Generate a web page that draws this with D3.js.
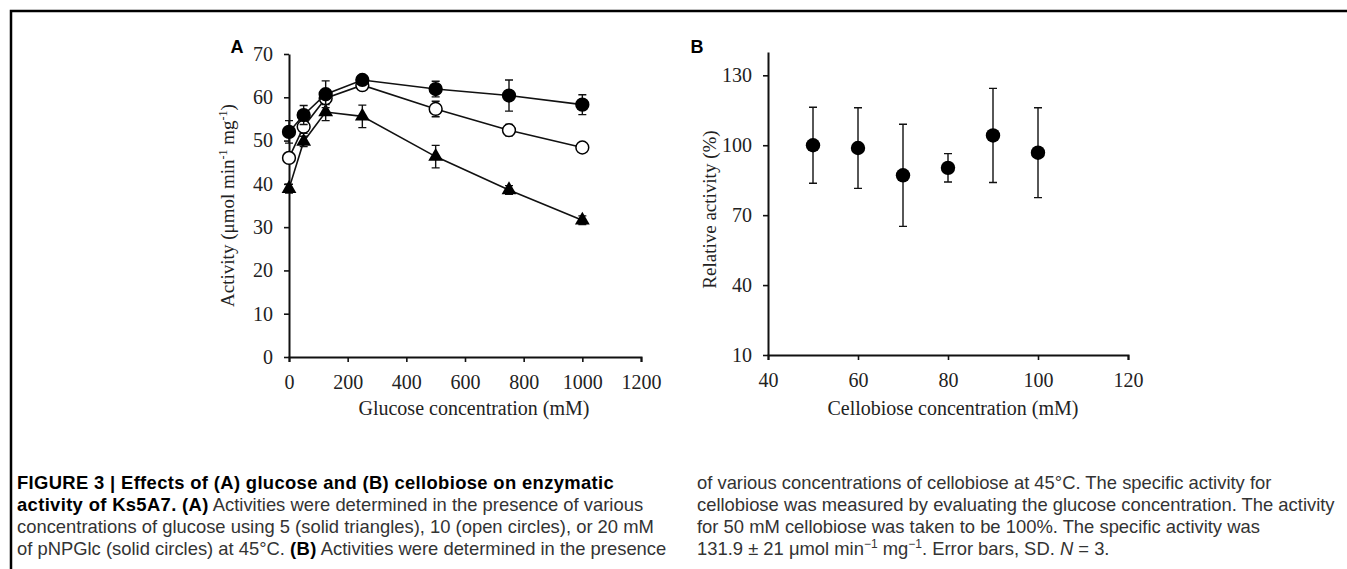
<!DOCTYPE html>
<html>
<head>
<meta charset="utf-8">
<script src="https://cdn.jsdelivr.net/npm/d3@7/dist/d3.min.js"></script>
<style>
  body { margin: 0; background: #fff; }
  svg { display: block; }
  .axis path, .axis line { stroke: #111; }
  .axis text { font-family: 'Liberation Serif', serif; font-size: 20px; fill: #222; }
</style>
</head>
<body>
<div class="figure"></div>
<script>
// panel A: activity vs glucose concentration
const glucoseConc = [0, 50, 125, 250, 500, 750, 1000];
const act5mM = [38.9, 49.8, 56.6, 55.6, 46.3, 38.6, 31.6];
const err5mM = [1.0, 1.2, 2.0, 2.6, 2.6, 1.0, 1.0];
const act10mM = [46.0, 53.2, 59.8, 62.8, 57.3, 52.4, 48.4];
const err10mM = [1.0, 1.5, 1.5, 1.0, 1.8, 1.3, 0.8];
const act20mM = [52.0, 55.9, 60.7, 64.0, 61.9, 60.4, 58.3];
const err20mM = [2.6, 2.2, 3.1, 0.8, 1.8, 3.6, 2.3];
const ticksA_x = [0, 200, 400, 600, 800, 1000, 1200];
const ticksA_y = [0, 10, 20, 30, 40, 50, 60, 70];

// panel B: relative activity vs cellobiose concentration
const cellobioseConc = [50, 60, 70, 80, 90, 100];
const relActivity = [100, 98.8, 87.1, 90.3, 104.2, 96.8];
const relSD = [16.3, 17.3, 21.9, 6.1, 20.2, 19.3];
const ticksB_x = [40, 60, 80, 100, 120];
const ticksB_y = [10, 40, 70, 100, 130];

const captionLeft = [
  [{ t: 'FIGURE 3 | Effects of (A) glucose and (B) cellobiose on enzymatic', b: true }],
  [{ t: 'activity of Ks5A7. (A)', b: true }, { t: ' Activities were determined in the presence of various' }],
  [{ t: 'concentrations of glucose using 5 (solid triangles), 10 (open circles), or 20 mM' }],
  [{ t: 'of pNPGlc (solid circles) at 45°C. ' }, { t: '(B)', b: true }, { t: ' Activities were determined in the presence' }]
];
const captionRight = [
  [{ t: 'of various concentrations of cellobiose at 45°C. The specific activity for' }],
  [{ t: 'cellobiose was measured by evaluating the glucose concentration. The activity' }],
  [{ t: 'for 50 mM cellobiose was taken to be 100%. The specific activity was' }],
  [{ t: '131.9 ± 21 μmol min' }, { t: '−1', sup: true }, { t: ' mg' }, { t: '−1', sup: true },
   { t: '. Error bars, SD. ' }, { t: 'N', i: true }, { t: ' = 3.' }]
];

const W = 1347, H = 569;
const svg = d3.select('.figure').append('svg').attr('width', W).attr('height', H);

// frame
svg.append('path')
  .attr('d', `M11,${H} V11 H${W}`)
  .attr('fill', 'none').attr('stroke', '#000').attr('stroke-width', 2.5);

function styleAxis(g) {
  g.select('.domain').attr('stroke-width', 2);
  g.selectAll('.tick line').attr('stroke-width', 1.6);
}

// ---------- panel A ----------
const xA = d3.scaleLinear().domain([0, 1200]).range([289, 641]);
const yA = d3.scaleLinear().domain([0, 70]).range([357, 54]);

svg.append('g').attr('class', 'axis')
  .attr('transform', `translate(0,${yA(0)})`)
  .call(d3.axisBottom(xA).tickValues(ticksA_x).tickFormat(d3.format('d'))
    .tickSize(5).tickSizeOuter(5).tickPadding(13))
  .call(styleAxis);

svg.append('g').attr('class', 'axis')
  .attr('transform', `translate(${xA(0)},0)`)
  .call(d3.axisLeft(yA).tickValues(ticksA_y).tickSize(5).tickSizeOuter(0).tickPadding(11))
  .call(styleAxis);

const seriesA = [
  { vals: act5mM, errs: err5mM, kind: 'tri' },
  { vals: act10mM, errs: err10mM, kind: 'open' },
  { vals: act20mM, errs: err20mM, kind: 'solid' }
];

seriesA.forEach(s => {
  const pts = glucoseConc.map((x, i) => ({ x, y: s.vals[i], e: s.errs[i] }));
  const g = svg.append('g');
  g.append('path').datum(pts)
    .attr('fill', 'none').attr('stroke', '#111').attr('stroke-width', 1.6)
    .attr('d', d3.line().x(d => xA(d.x)).y(d => yA(d.y)));
  g.selectAll('.err').data(pts).join('path')
    .attr('fill', 'none').attr('stroke', '#111').attr('stroke-width', 1.4)
    .attr('d', d => {
      const x = xA(d.x), y1 = yA(d.y + d.e), y0 = yA(d.y - d.e);
      return `M${x},${y0}V${y1}M${x - 4},${y1}H${x + 4}M${x - 4},${y0}H${x + 4}`;
    });
  if (s.kind === 'tri') {
    g.selectAll('.mk').data(pts).join('path')
      .attr('transform', d => `translate(${xA(d.x)},${yA(d.y)})`)
      .attr('d', d3.symbol(d3.symbolTriangle, 95))
      .attr('fill', '#000');
  } else {
    g.selectAll('.mk').data(pts).join('circle')
      .attr('cx', d => xA(d.x)).attr('cy', d => yA(d.y)).attr('r', 6.4)
      .attr('fill', s.kind === 'open' ? '#fff' : '#000')
      .attr('stroke', '#000').attr('stroke-width', 1.5);
  }
});

svg.append('text')
  .attr('x', 237).attr('y', 53).attr('text-anchor', 'middle')
  .style('font-family', 'Liberation Sans, Arial, sans-serif')
  .style('font-weight', 'bold').style('font-size', '18px')
  .text('A');

const ytA = svg.append('text')
  .attr('transform', `translate(234,${(yA(0) + yA(70)) / 2}) rotate(-90)`)
  .attr('text-anchor', 'middle')
  .style('font-family', 'Liberation Serif, serif').style('font-size', '19px').style('fill', '#222');
ytA.append('tspan').text('Activity (μmol min');
ytA.append('tspan').attr('dy', -7).style('font-size', '12px').text('-1');
ytA.append('tspan').attr('dy', 7).text(' mg');
ytA.append('tspan').attr('dy', -7).style('font-size', '12px').text('-1');
ytA.append('tspan').attr('dy', 7).text(')');

svg.append('text')
  .attr('x', 474).attr('y', 415).attr('text-anchor', 'middle')
  .style('font-family', 'Liberation Serif, serif').style('font-size', '20px').style('fill', '#222')
  .text('Glucose concentration (mM)');

// ---------- panel B ----------
const xB = d3.scaleLinear().domain([40, 120]).range([768, 1128]);
const yB = d3.scaleLinear().domain([10, 140]).range([355, 52]);

svg.append('g').attr('class', 'axis')
  .attr('transform', `translate(0,${yB(10)})`)
  .call(d3.axisBottom(xB).tickValues(ticksB_x).tickSize(5).tickSizeOuter(5).tickPadding(13))
  .call(styleAxis);

svg.append('g').attr('class', 'axis')
  .attr('transform', `translate(${xB(40)},0)`)
  .call(d3.axisLeft(yB).tickValues(ticksB_y).tickSize(5).tickSizeOuter(0).tickPadding(11))
  .call(styleAxis);

const ptsB = cellobioseConc.map((x, i) => ({ x, y: relActivity[i], e: relSD[i] }));
svg.append('g').selectAll('path').data(ptsB).join('path')
  .attr('fill', 'none').attr('stroke', '#111').attr('stroke-width', 1.4)
  .attr('d', d => {
    const x = xB(d.x), y1 = yB(d.y + d.e), y0 = yB(d.y - d.e);
    return `M${x},${y0}V${y1}M${x - 4},${y1}H${x + 4}M${x - 4},${y0}H${x + 4}`;
  });
svg.append('g').selectAll('circle').data(ptsB).join('circle')
  .attr('cx', d => xB(d.x)).attr('cy', d => yB(d.y)).attr('r', 7.2)
  .attr('fill', '#000');

svg.append('text')
  .attr('x', 697).attr('y', 53).attr('text-anchor', 'middle')
  .style('font-family', 'Liberation Sans, Arial, sans-serif')
  .style('font-weight', 'bold').style('font-size', '18px')
  .text('B');

svg.append('text')
  .attr('transform', `translate(716,${(yB(10) + yB(140)) / 2 + 6}) rotate(-90)`)
  .attr('text-anchor', 'middle')
  .style('font-family', 'Liberation Serif, serif').style('font-size', '19px').style('fill', '#222')
  .text('Relative activity (%)');

svg.append('text')
  .attr('x', 953).attr('y', 415).attr('text-anchor', 'middle')
  .style('font-family', 'Liberation Serif, serif').style('font-size', '20px').style('fill', '#222')
  .text('Cellobiose concentration (mM)');

// ---------- caption ----------
function drawCaption(lines, x0, y0) {
  lines.forEach((parts, li) => {
    const t = svg.append('text')
      .attr('x', x0).attr('y', y0 + li * 22)
      .style('font-family', 'Liberation Sans, Arial, sans-serif').style('font-size', '18.4px');
    let up = false;
    parts.forEach(p => {
      const ts = t.append('tspan').text(p.t)
        .style('fill', p.b ? '#000' : '#333')
        .style('font-weight', p.b ? 'bold' : 'normal');
      if (p.b) ts.style('letter-spacing', '0.35px');
      if (p.i) ts.style('font-style', 'italic');
      if (p.sup) { ts.attr('dy', -7).style('font-size', '12px'); up = true; }
      else if (up) { ts.attr('dy', 7); up = false; }
    });
  });
}
drawCaption(captionLeft, 17, 489);
drawCaption(captionRight, 697, 489);
</script>
</body>
</html>
